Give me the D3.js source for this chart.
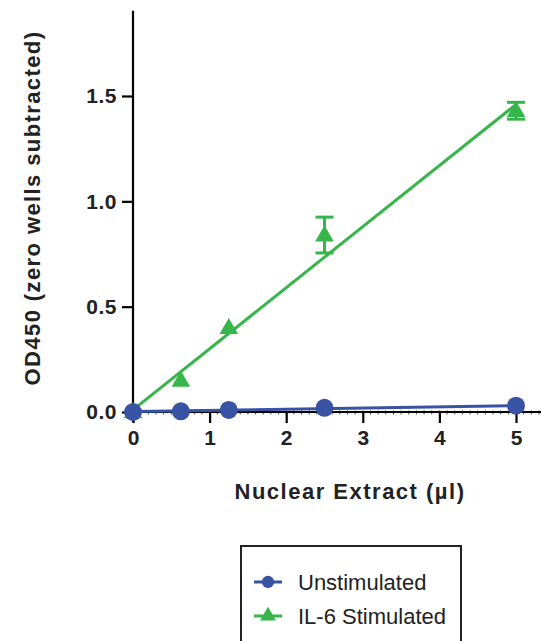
<!DOCTYPE html>
<html>
<head>
<meta charset="utf-8">
<script src="https://cdn.jsdelivr.net/npm/d3@7"></script>
<style>
  body { margin: 0; background: #fff; }
  text { font-family: "Liberation Sans", Arial, sans-serif; }
</style>
</head>
<body>
<div id="graf"></div>
<script>
// data
const doses = [0, 0.625, 1.25, 2.5, 5]
const unstim = [0.0, 0.003, 0.01, 0.02, 0.03]
const il6 = [0.0, 0.15, 0.40, 0.84, 1.43]
const il6Err = [0, 0, 0, 0.085, 0.04]
// linear fit lines (value at x=0 and x=5)
const unstimFit = [0.002, 0.03]
const il6Fit = [0.01, 1.46]
const xTicks = [0, 1, 2, 3, 4, 5]
const yTicks = [0, 0.5, 1.0, 1.5]
const seriesNames = ["Unstimulated", "IL-6 Stimulated"]

const width = 541, height = 641
const blue = "#3953a4", green = "#36b64a"
const ink = "#222"

const x = d3.scaleLinear().domain([0, 5]).range([133, 516])
const y = d3.scaleLinear().domain([0, 1.5]).range([412, 96])

const svg = d3.select("#graf").append("svg")
    .attr("width", width).attr("height", height)

// y axis
const yAxis = svg.append("g")
    .attr("transform", `translate(${x(0)},0)`)
    .call(d3.axisLeft(y).tickValues(yTicks).tickFormat(d3.format(".1f")).tickSize(11).tickPadding(5))
yAxis.select(".domain").attr("d", `M0,${y(0) + 10}V${y(1.905)}`).attr("stroke-width", 2.2)
yAxis.selectAll(".tick line").attr("stroke-width", 2.2)
yAxis.selectAll(".tick text").attr("font-size", 21).attr("font-weight", "bold")
    .attr("font-family", "Liberation Sans, Arial, sans-serif").attr("fill", ink)
    .attr("letter-spacing", 0.5)

// x axis minor ticks
const xMinor = d3.range(1, 54).map(i => i / 10)
svg.append("g")
    .selectAll("line")
    .data(xMinor)
    .join("line")
    .attr("x1", d => x(d)).attr("x2", d => x(d))
    .attr("y1", y(0) - 1.5).attr("y2", y(0) + 2.5)
    .attr("stroke", "#444").attr("stroke-width", 1)

// x axis
const xAxis = svg.append("g")
    .attr("transform", `translate(0,${y(0)})`)
    .call(d3.axisBottom(x).tickValues(xTicks).tickFormat(d3.format("d")).tickSize(11).tickPadding(7))
xAxis.select(".domain").attr("d", `M${x(0)},0H${width}`).attr("stroke-width", 2.2)
xAxis.selectAll(".tick line").attr("stroke-width", 2.2)
xAxis.selectAll(".tick text").attr("font-size", 21).attr("font-weight", "bold")
    .attr("font-family", "Liberation Sans, Arial, sans-serif").attr("fill", ink)

// axis titles
svg.append("text")
    .attr("transform", `translate(40,${208}) rotate(-90)`)
    .attr("text-anchor", "middle")
    .attr("font-size", 22).attr("font-weight", "bold").attr("fill", ink)
    .attr("letter-spacing", 1.4)
    .text("OD450 (zero wells subtracted)")

svg.append("text")
    .attr("x", 350).attr("y", 499)
    .attr("text-anchor", "middle")
    .attr("font-size", 22).attr("font-weight", "bold").attr("fill", ink)
    .attr("letter-spacing", 1.5)
    .text("Nuclear Extract (\u00b5l)")

const tri = d3.symbol().type(d3.symbolTriangle).size(150)

// IL-6 fit line
svg.append("line")
    .attr("x1", x(0)).attr("y1", y(il6Fit[0]))
    .attr("x2", x(5)).attr("y2", y(il6Fit[1]))
    .attr("stroke", green).attr("stroke-width", 3)

// IL-6 error bars
const errG = svg.append("g").attr("stroke", green).attr("stroke-width", 3)
doses.forEach((d, i) => {
  if (!il6Err[i]) return
  const cx = x(d), lo = y(il6[i] - il6Err[i]), hi = y(il6[i] + il6Err[i])
  errG.append("line").attr("x1", cx).attr("x2", cx).attr("y1", lo).attr("y2", hi)
  errG.append("line").attr("x1", cx - 9).attr("x2", cx + 9).attr("y1", lo).attr("y2", lo)
  errG.append("line").attr("x1", cx - 9).attr("x2", cx + 9).attr("y1", hi).attr("y2", hi)
})

// IL-6 markers
svg.append("g")
    .selectAll("path")
    .data(doses.map((d, i) => [d, il6[i]]))
    .join("path")
    .attr("transform", ([a, b]) => `translate(${x(a)},${y(b) + 1})`)
    .attr("d", tri)
    .attr("fill", green)

// unstimulated fit line
svg.append("line")
    .attr("x1", x(0)).attr("y1", y(unstimFit[0]))
    .attr("x2", x(5)).attr("y2", y(unstimFit[1]))
    .attr("stroke", blue).attr("stroke-width", 3)

// unstimulated markers
svg.append("g")
    .selectAll("circle")
    .data(doses.map((d, i) => [d, unstim[i]]))
    .join("circle")
    .attr("cx", ([a]) => x(a))
    .attr("cy", ([a, b]) => y(b))
    .attr("r", 9)
    .attr("fill", blue)

// legend
const legend = svg.append("g")
legend.append("rect")
    .attr("x", 241).attr("y", 546).attr("width", 220).attr("height", 110)
    .attr("fill", "none").attr("stroke", ink).attr("stroke-width", 2)

const items = legend.selectAll("g.item")
    .data(seriesNames)
    .join("g")
    .attr("class", "item")
    .attr("transform", (d, i) => `translate(268,${582 + i * 34})`)
items.append("line")
    .attr("x1", -14).attr("x2", 14)
    .attr("stroke", (d, i) => i === 0 ? blue : green).attr("stroke-width", 3)
items.append("path")
    .attr("d", (d, i) => i === 0
        ? d3.symbol().type(d3.symbolCircle).size(120)()
        : d3.symbol().type(d3.symbolTriangle).size(110)())
    .attr("fill", (d, i) => i === 0 ? blue : green)
items.append("text")
    .attr("x", 30).attr("dy", "0.36em")
    .attr("font-size", 22).attr("fill", ink)
    .text(d => d)
</script>
</body>
</html>
